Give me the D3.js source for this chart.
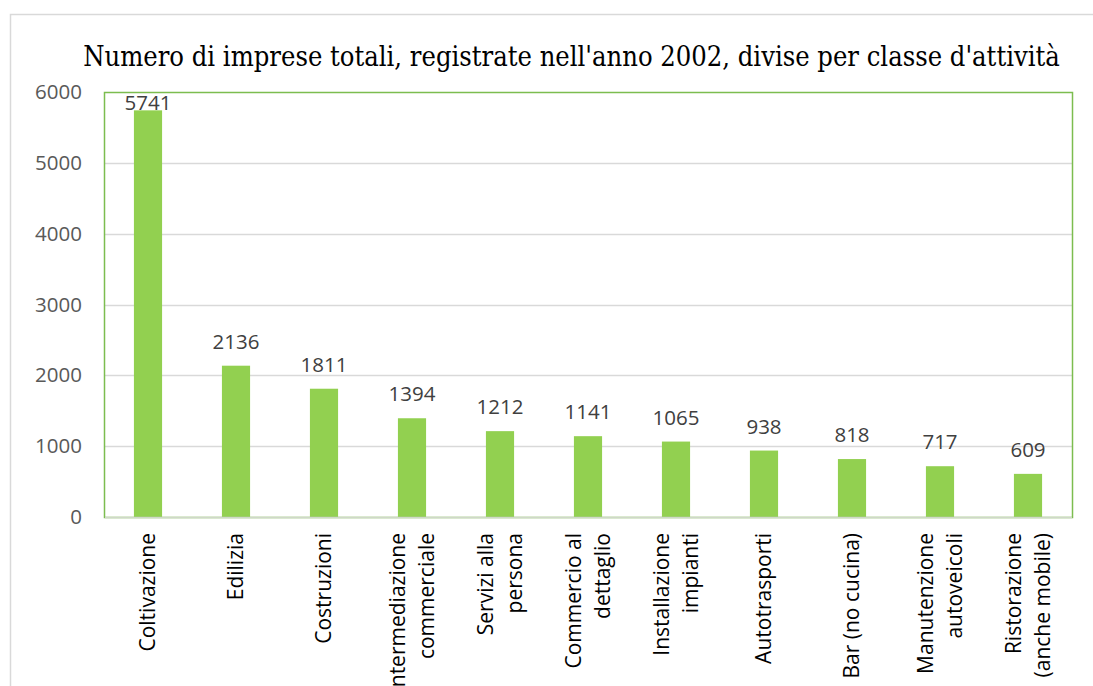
<!DOCTYPE html>
<html>
<head>
<meta charset="utf-8">
<script src="https://cdn.jsdelivr.net/npm/d3@7"></script>
<style>
  html, body { margin: 0; padding: 0; background: #fff; }
  svg { display: block; }
</style>
</head>
<body>
<script>
const titleText = "Numero di imprese totali, registrate nell'anno 2002, divise per classe d'attività";
const categories = [
  ["Coltivazione"],
  ["Edilizia"],
  ["Costruzioni"],
  ["Intermediazione", "commerciale"],
  ["Servizi alla", "persona"],
  ["Commercio al", "dettaglio"],
  ["Installazione", "impianti"],
  ["Autotrasporti"],
  ["Bar (no cucina)"],
  ["Manutenzione", "autoveicoli"],
  ["Ristorazione", "(anche mobile)"]
];
const values = [5741, 2136, 1811, 1394, 1212, 1141, 1065, 938, 818, 717, 609];
const yTicks = [0, 1000, 2000, 3000, 4000, 5000, 6000];

const W = 1093, H = 686;
const plot = { left: 104, right: 1072, top: 92, bottom: 517 };

const svg = d3.select("body").append("svg").attr("width", W).attr("height", H);

// outer chart border
svg.append("path")
  .attr("d", `M10.5,${H + 2} L10.5,14.5 L${W + 2},14.5`)
  .attr("fill", "none").attr("stroke", "#d9d9d9").attr("stroke-width", 1.5);

const keys = categories.map((c, i) => c.join(" "));
const x = d3.scaleBand().domain(keys).range([plot.left, plot.right]).paddingInner(0.68).paddingOuter(0.34);
const y = d3.scaleLinear().domain([0, 6000]).range([plot.bottom, plot.top]);

// gridlines
svg.append("g").selectAll("line").data(yTicks.filter(t => t > 0 && t < 6000)).join("line")
  .attr("x1", plot.left).attr("x2", plot.right)
  .attr("y1", d => Math.round(y(d)) + 0.5).attr("y2", d => Math.round(y(d)) + 0.5)
  .attr("stroke", "#d9d9d9").attr("stroke-width", 1.5);

// y axis labels
const yAxis = d3.axisLeft(y).tickValues(yTicks).tickSize(0).tickPadding(0).tickFormat(d3.format("d"));
const gy = svg.append("g").attr("transform", `translate(82,0)`).call(yAxis);
gy.select(".domain").remove();
gy.selectAll("text").attr("font-family", "'Open Sans'").attr("font-size", 20.5).attr("fill", "#595959");

// bars
svg.append("g").selectAll("rect").data(values).join("rect")
  .attr("x", (d, i) => x(keys[i]))
  .attr("width", x.bandwidth())
  .attr("y", d => y(d))
  .attr("height", d => plot.bottom - y(d))
  .attr("fill", "#92D050");

// plot area border
svg.append("rect")
  .attr("x", plot.left + 0.5).attr("y", plot.top + 0.5)
  .attr("width", plot.right - plot.left).attr("height", plot.bottom - plot.top)
  .attr("fill", "none").attr("stroke", "#7cbd4f").attr("stroke-width", 1.5);
// bottom axis line over border
svg.append("line").attr("x1", plot.left + 1).attr("x2", plot.right)
  .attr("y1", plot.bottom + 0.5).attr("y2", plot.bottom + 0.5)
  .attr("stroke", "#cfd8c8").attr("stroke-width", 1.5);

// value labels
svg.append("g").selectAll("text").data(values).join("text")
  .attr("x", (d, i) => x(keys[i]) + x.bandwidth() / 2)
  .attr("y", d => Math.max(y(d) - 17, 110))
  .attr("text-anchor", "middle")
  .attr("font-family", "'Open Sans'").attr("font-size", 20.5).attr("fill", "#404040")
  .text(d => d);

// category labels (rotated)
const lineGap = 29;
const gx = svg.append("g");
categories.forEach((lines, i) => {
  const cx = x(keys[i]) + x.bandwidth() / 2;
  const n = lines.length;
  lines.forEach((ln, j) => {
    const off = (j - (n - 1) / 2) * lineGap;
    gx.append("text")
      .attr("transform", `translate(${cx + off + 7},533) rotate(-90)`)
      .attr("text-anchor", "end")
      .attr("font-family", "'Open Sans'").attr("font-size", 21).attr("fill", "#000")
      .text(ln);
  });
});

// title
const t = svg.append("text")
  .attr("x", 571.5).attr("y", 66)
  .attr("text-anchor", "middle")
  .attr("font-family", "'DejaVu Serif'").attr("font-stretch", "condensed")
  .style("font-stretch", "condensed")
  .attr("font-size", 27).attr("fill", "#000")
  .text(titleText);
const tw = t.node().getComputedTextLength();
t.attr("font-size", 27 * 977 / tw);
</script>
</body>
</html>
